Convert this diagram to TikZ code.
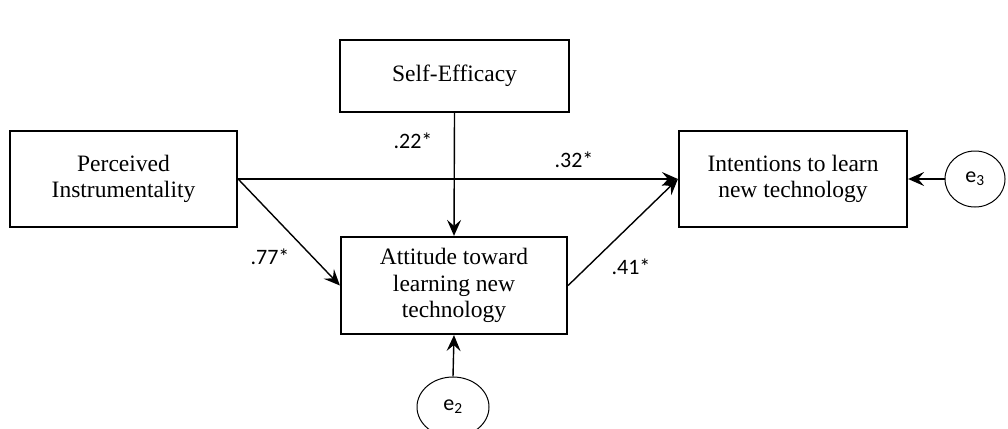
\documentclass[tikz,border=0pt]{standalone}
\usepackage{fontspec}
\setmainfont{Liberation Serif}
\newfontfamily\labelfont{Carlito}
\usetikzlibrary{arrows.meta,shapes.geometric}
\tikzset{
  varbox/.style={draw, line width=2.2pt, align=center, font=\fontsize{23.5}{26.5}\selectfont},
  errnode/.style={draw, ellipse, line width=1pt, inner sep=0pt, font=\labelfont\fontsize{22}{25}\selectfont},
  path/.style={line width=1.4pt, -{Stealth[length=16pt, width=14pt, inset=6pt]}},
  coef/.style={font=\labelfont\fontsize{22}{25}\selectfont}
}
\begin{document}
\begin{tikzpicture}[x=1pt, y=-1pt]
  \useasboundingbox (0,0) rectangle (1008,428);
  \node[varbox, minimum width=229pt, minimum height=72pt] (self) at (454.5,76) {Self-Efficacy};
  \node[varbox, minimum width=227pt, minimum height=96pt] (instr) at (123.5,179) {Perceived\\Instrumentality};
  \node[varbox, minimum width=226pt, minimum height=97pt] (att) at (454,285.5) {Attitude toward\\learning new\\technology};
  \node[varbox, minimum width=228pt, minimum height=96pt] (intent) at (793,179) {Intentions to learn\\new technology};
  \node[errnode, minimum width=60pt, minimum height=56pt] (e3) at (975,179) {e\textsubscript{3}};
  \node[errnode, minimum width=72pt, minimum height=60pt] (e2) at (453,407) {e\textsubscript{2}};

  \draw[path] (instr.east) -- (intent.west);
  \draw[path] (instr.east) -- (att.west);
  \draw[path] (self.south) -- (att.north);
  \draw[path] (att.east) -- (intent.west);
  \draw[path] (e2.north) -- (att.south);
  \draw[path] (e3.west) -- (intent.east);

  \node[coef] (c32) at (574,160) {.32*};
  \node[coef] (c77) at (270,257) {.77*};
  \node[coef] (c22) at (413,141) {.22*};
  \node[coef] (c41) at (631,267) {.41*};
\end{tikzpicture}
\end{document}
